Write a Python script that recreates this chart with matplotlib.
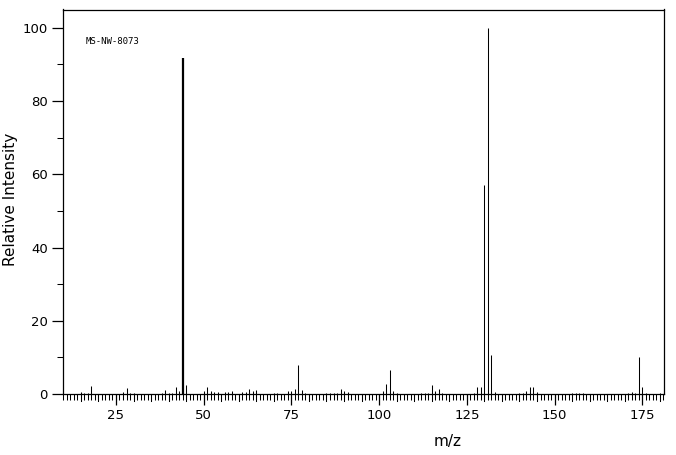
import numpy as np
import matplotlib
matplotlib.use('Agg')
import matplotlib.pyplot as plt
from matplotlib.ticker import MultipleLocator

# espectro de massas (m/z, intensidade relativa em %)
mz = [15, 16, 17, 18, 27, 28, 29, 30, 38, 39, 40, 41, 42, 43, 44, 45,
      50, 51, 52, 53, 54, 56, 57, 58, 61, 62, 63, 64, 65, 70, 71,
      74, 75, 76, 77, 78, 79, 85, 86, 87, 88, 89, 90, 91,
      101, 102, 103, 104, 105, 112, 113, 114, 115, 116, 117, 118,
      127, 128, 129, 130, 131, 132, 133, 140, 141, 142, 143, 144, 145,
      155, 156, 157, 158, 171, 172, 173, 174, 175, 176, 180]
intensidade = [0.5, 0.3, 0.4, 2.2, 0.5, 1.6, 0.3, 0.3, 0.3, 1.1, 0.4, 0.4, 1.9, 0.8, 91.7, 2.5,
               0.9, 2.0, 0.9, 0.5, 0.5, 0.5, 0.5, 0.9, 0.5, 0.5, 1.5, 0.8, 1.0, 0.3, 0.4,
               0.7, 0.9, 1.5, 8.0, 1.0, 0.3, 0.3, 0.3, 0.3, 0.3, 1.3, 0.8, 0.5,
               0.7, 2.6, 6.5, 0.7, 0.3, 0.3, 0.3, 0.3, 2.4, 0.7, 1.5, 0.3,
               0.3, 1.9, 1.9, 57.2, 100.0, 10.6, 0.5, 0.3, 0.3, 0.7, 1.9, 1.9, 0.5,
               0.3, 0.3, 0.3, 0.3, 0.3, 0.55, 0.3, 10.1, 1.9, 0.3, 0.3]
codigo = 'MS-NW-8073'

fig = plt.figure(figsize=(6.76, 4.55), dpi=100)
ax = fig.add_axes([63/676, 1 - 394/455, 601/676, 384.5/455])

# picos: o de m/z 44 aparece mais grosso no original
larguras = [1.6 if m == 44 else 0.75 for m in mz]
ax.vlines(mz, 0, intensidade, colors='black', linewidths=larguras)

ax.set_xlim(9.9, 181.2)
ax.set_ylim(0, 105)

for s in ['left', 'right', 'top', 'bottom']:
    ax.spines[s].set_linewidth(0.9)

ax.xaxis.set_major_locator(MultipleLocator(25))
ax.xaxis.set_minor_locator(MultipleLocator(1))
ax.yaxis.set_major_locator(MultipleLocator(20))
ax.yaxis.set_minor_locator(MultipleLocator(10))
ax.tick_params(axis='x', which='major', length=8, width=0.9, direction='out', labelsize=9.5, pad=3)
ax.tick_params(axis='x', which='minor', length=4, width=0.75, direction='out')
ax.tick_params(axis='y', which='major', length=8, width=0.9, direction='out', labelsize=9.5, pad=3)
ax.tick_params(axis='y', which='minor', length=4, width=0.75, direction='out')

# ticks médios a cada 5 unidades
for x in range(15, 181, 5):
    if x % 25 != 0:
        ax.plot([x, x], [0, -1.9], color='black', lw=0.75, clip_on=False)

ax.set_xlabel('m/z', fontsize=11)
ax.set_ylabel('Relative Intensity', fontsize=11)
ax.xaxis.set_label_coords((448 - 63) / 601, -0.105)
ax.yaxis.set_label_coords(-0.075, 0.505)

ax.text(0.038, 0.918, codigo, transform=ax.transAxes, family='DejaVu Sans Mono',
        fontsize=6.5, va='center', ha='left')

plt.savefig('out.png', dpi=100)
plt.close()
